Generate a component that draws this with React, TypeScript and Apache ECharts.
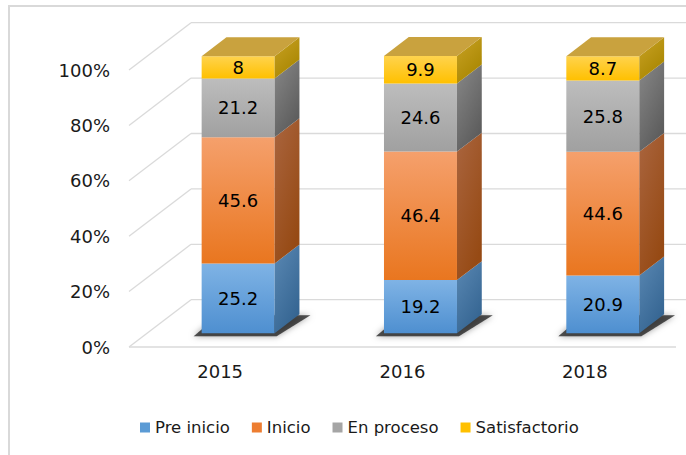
import React, { useEffect, useRef } from "react";
import * as echarts from "echarts";

const categories = ["2015", "2016", "2018"];
const preInicio = [25.2, 19.2, 20.9];
const inicio = [45.6, 46.4, 44.6];
const enProceso = [21.2, 24.6, 25.8];
const satisfactorio = [8, 9.9, 8.7];
const seriesNames = ["Pre inicio", "Inicio", "En proceso", "Satisfactorio"];
const yTicks = [0, 20, 40, 60, 80, 100];

const DEPTH_X = 62;
const DEPTH_Y = -47.3;
const BAR_OFF = 0.29;
const BAR_DEPTH = 0.4;
const BAR_HALF = 36.5;
const FONT = "'DejaVu Sans', Verdana, sans-serif";

const faceColors = [
  { base: "#5B9BD5", front: ["#7fb3e5", "#4e8fd0"], side: ["#5a88b3", "#356592"], top: "#6d9cc8" },
  { base: "#ED7D31", front: ["#f5a06c", "#e9761f"], side: ["#aa653f", "#964a14"], top: "#c97a45" },
  { base: "#A5A5A5", front: ["#bdbdbd", "#a0a0a0"], side: ["#888888", "#5c5c5c"], top: "#9a9a9a" },
  { base: "#FFC000", front: ["#ffd34d", "#ffc000"], side: ["#c9a225", "#a88600"], top: "#c9a23e" },
];

function grad(c: string[], x2 = 0, y2 = 1) {
  return new echarts.graphic.LinearGradient(0, 0, x2, y2, [
    { offset: 0, color: c[0] },
    { offset: 1, color: c[1] },
  ]);
}

export default function App() {
  const ref = useRef<HTMLDivElement>(null);
  useEffect(() => {
    if (!ref.current) return;
    const chart = echarts.init(ref.current, null, { renderer: "svg" });
    const valueSets = [preInicio, inicio, enProceso, satisfactorio];
    const cum = categories.map(() => 0);
    const barSeries = valueSets.map((vals, si) => {
      const data = vals.map((v, ci) => {
        const s = cum[ci];
        cum[ci] += v;
        return [ci, s, s + v, v];
      });
      const fc = faceColors[si];
      const isFirst = si === 0;
      const isLast = si === valueSets.length - 1;
      return {
        type: "custom",
        name: seriesNames[si],
        z: 3,
        itemStyle: { color: fc.base },
        data,
        renderItem: (params: any, api: any) => {
          const i = api.value(0);
          const s = api.value(1);
          const e = api.value(2);
          const v = api.value(3);
          const pb = api.coord([i, s]);
          const pt = api.coord([i, e]);
          const ox = DEPTH_X * BAR_OFF;
          const oy = DEPTH_Y * BAR_OFF;
          const dx = DEPTH_X * BAR_DEPTH;
          const dy = DEPTH_Y * BAR_DEPTH;
          const xl = pb[0] + ox - BAR_HALF;
          const xr = pb[0] + ox + BAR_HALF;
          const yb = pb[1] + oy;
          const yt = pt[1] + oy;
          const children: any[] = [];
          if (isFirst) {
            children.push({
              type: "polygon",
              shape: {
                points: [
                  [xl - 8, yb + 3],
                  [xr + 2, yb + 3],
                  [xr + dx + 11, yb + dy + 1],
                  [xl + dx - 8, yb + dy + 1],
                ],
              },
              style: { fill: "rgba(25,25,25,0.75)", shadowBlur: 6, shadowColor: "rgba(0,0,0,0.5)" },
            });
          }
          children.push({
            type: "rect",
            shape: { x: xl, y: yt, width: xr - xl, height: yb - yt },
            style: { fill: grad(fc.front) },
          });
          children.push({
            type: "polygon",
            shape: {
              points: [
                [xr, yt],
                [xr + dx, yt + dy],
                [xr + dx, yb + dy],
                [xr, yb],
              ],
            },
            style: { fill: grad(fc.side, 0.6, 1) },
          });
          if (isLast) {
            children.push({
              type: "polygon",
              shape: {
                points: [
                  [xl, yt],
                  [xl + dx, yt + dy],
                  [xr + dx, yt + dy],
                  [xr, yt],
                ],
              },
              style: { fill: fc.top },
            });
          }
          children.push({
            type: "text",
            style: {
              text: String(v),
              x: (xl + xr) / 2,
              y: (yt + yb) / 2,
              align: "center",
              verticalAlign: "middle",
              fill: "#000",
              fontSize: 18,
              fontFamily: FONT,
            },
          });
          return { type: "group", children };
        },
      };
    });

    const gridSeries = {
      type: "custom",
      name: "grid",
      z: 1,
      silent: true,
      data: yTicks.map((t) => [0, t]),
      renderItem: (params: any, api: any) => {
        const cs = params.coordSys;
        const p = api.coord([0, api.value(1)]);
        const x0 = cs.x;
        const y = p[1];
        const lineStyle = { stroke: "#dadada", lineWidth: 1.3 };
        const children: any[] = [
          { type: "line", shape: { x1: x0, y1: y, x2: x0 + DEPTH_X, y2: y + DEPTH_Y }, style: lineStyle },
          { type: "line", shape: { x1: x0 + DEPTH_X, y1: y + DEPTH_Y, x2: x0 + DEPTH_X + cs.width, y2: y + DEPTH_Y }, style: lineStyle },
        ];
        if (api.value(1) === 0) {
          children.push({ type: "line", shape: { x1: x0, y1: y, x2: x0 + cs.width, y2: y }, style: lineStyle });
        }
        return { type: "group", children };
      },
    };

    chart.setOption({
      animation: false,
      backgroundColor: "#ffffff",
      textStyle: { fontFamily: FONT },
      graphic: [
        {
          type: "rect",
          shape: { x: 9, y: 6, width: 720, height: 480 },
          style: { fill: "none", stroke: "#d9d9d9", lineWidth: 2 },
          z: 0,
        },
      ],
      grid: { left: 129, top: 70, width: 547, height: 277 },
      xAxis: {
        type: "category",
        data: categories,
        axisLine: { show: false },
        axisTick: { show: false },
        axisLabel: { fontSize: 18, color: "#1a1a1a", margin: 15, fontFamily: FONT },
      },
      yAxis: {
        type: "value",
        min: 0,
        max: 100,
        interval: 20,
        axisLine: { show: false },
        axisTick: { show: false },
        splitLine: { show: false },
        axisLabel: { formatter: "{value}%", fontSize: 18, color: "#1a1a1a", margin: 19, fontFamily: FONT },
      },
      legend: {
        data: seriesNames,
        icon: "rect",
        itemWidth: 10,
        itemHeight: 10,
        itemGap: 22,
        left: 140,
        top: 419,
        padding: 0,
        textStyle: { fontSize: 16.5, color: "#1a1a1a", fontFamily: FONT },
      },
      series: [gridSeries, ...barSeries],
    });
    return () => chart.dispose();
  }, []);
  return (
    <div
      ref={ref}
      style={{ position: "fixed", left: 0, top: 0, width: 686, height: 455 }}
    />
  );
}
